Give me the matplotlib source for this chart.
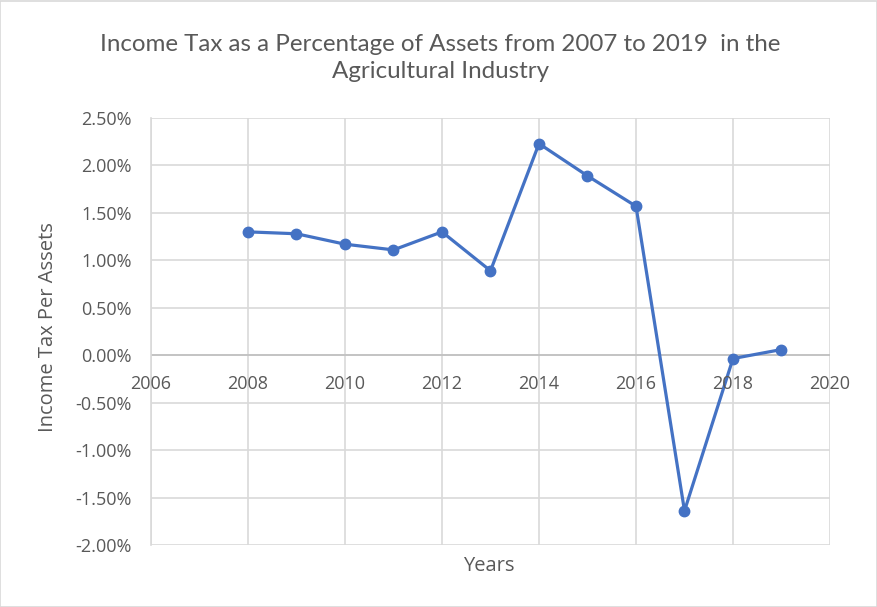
import matplotlib
matplotlib.use("Agg")
import matplotlib.pyplot as plt
from matplotlib.ticker import FuncFormatter, MultipleLocator
from matplotlib.patches import Rectangle

# Income tax as a share of assets, agricultural industry (percent)
years = [2008, 2009, 2010, 2011, 2012, 2013, 2014, 2015, 2016, 2017, 2018, 2019]
tax_pct = [1.30, 1.28, 1.17, 1.11, 1.30, 0.89, 2.23, 1.89, 1.57, -1.64, -0.035, 0.06]

x_ticks = [2006, 2008, 2010, 2012, 2014, 2016, 2018, 2020]
title = "Income Tax as a Percentage of Assets from 2007 to 2019  in the\nAgricultural Industry"
x_label = "Years"
y_label = "Income Tax Per Assets"

plt.rcParams['font.family'] = ['Open Sans', 'DejaVu Sans']
text_color = "#595959"
grid_color = "#d9d9d9"
line_color = "#4472C4"

W, H = 878, 607
fig = plt.figure(figsize=(W / 100, H / 100), dpi=100)
ax = fig.add_axes([151 / W, 1 - 545 / H, (830 - 151) / W, (545 - 118) / H])

ax.plot(years, tax_pct, color=line_color, linewidth=2.3, marker='o',
        markersize=7.5, zorder=3)

ax.set_xlim(2006, 2020)
ax.set_ylim(-2.0, 2.5)
ax.set_xticks(x_ticks)
ax.yaxis.set_major_locator(MultipleLocator(0.5))
ax.yaxis.set_major_formatter(FuncFormatter(lambda v, p: f"{v:.2f}%"))

ax.grid(True, color=grid_color, linewidth=1.2)
ax.set_axisbelow(True)
for side in ('top', 'right', 'bottom'):
    ax.spines[side].set_visible(False)
ax.spines['left'].set_color(grid_color)
ax.spines['left'].set_linewidth(1.2)

# horizontal axis crosses at zero
ax.axhline(0, color="#bfbfbf", linewidth=1.2, zorder=2)
ax.tick_params(axis='x', length=0, pad=0, labelbottom=False)
for xv in x_ticks:
    ax.annotate(str(xv), xy=(xv, 0), xytext=(0, -20.5), textcoords='offset points',
                ha='center', va='center', fontsize=13, color=text_color)
ax.tick_params(axis='y', length=0, pad=14, labelsize=13, labelcolor=text_color)

fig.text(440 / W, 1 - 58 / H, title, ha='center', va='center',
         fontsize=17.4, color=text_color, linespacing=1.35,
         family=['Lato', 'DejaVu Sans'])
fig.text(489 / W, 1 - 566 / H, x_label, ha='center', va='center',
         fontsize=14.5, color=text_color)
fig.text(48 / W, 1 - 327 / H, y_label, ha='center', va='center',
         rotation=90, fontsize=14.5, color=text_color)

fig.patches.append(Rectangle((0.5 / W, 0.5 / H), 1 - 1.5 / W, 1 - 1.5 / H,
                             transform=fig.transFigure, fill=False,
                             edgecolor=grid_color, linewidth=1.2))

fig.savefig("out.png", dpi=100, facecolor="white")
